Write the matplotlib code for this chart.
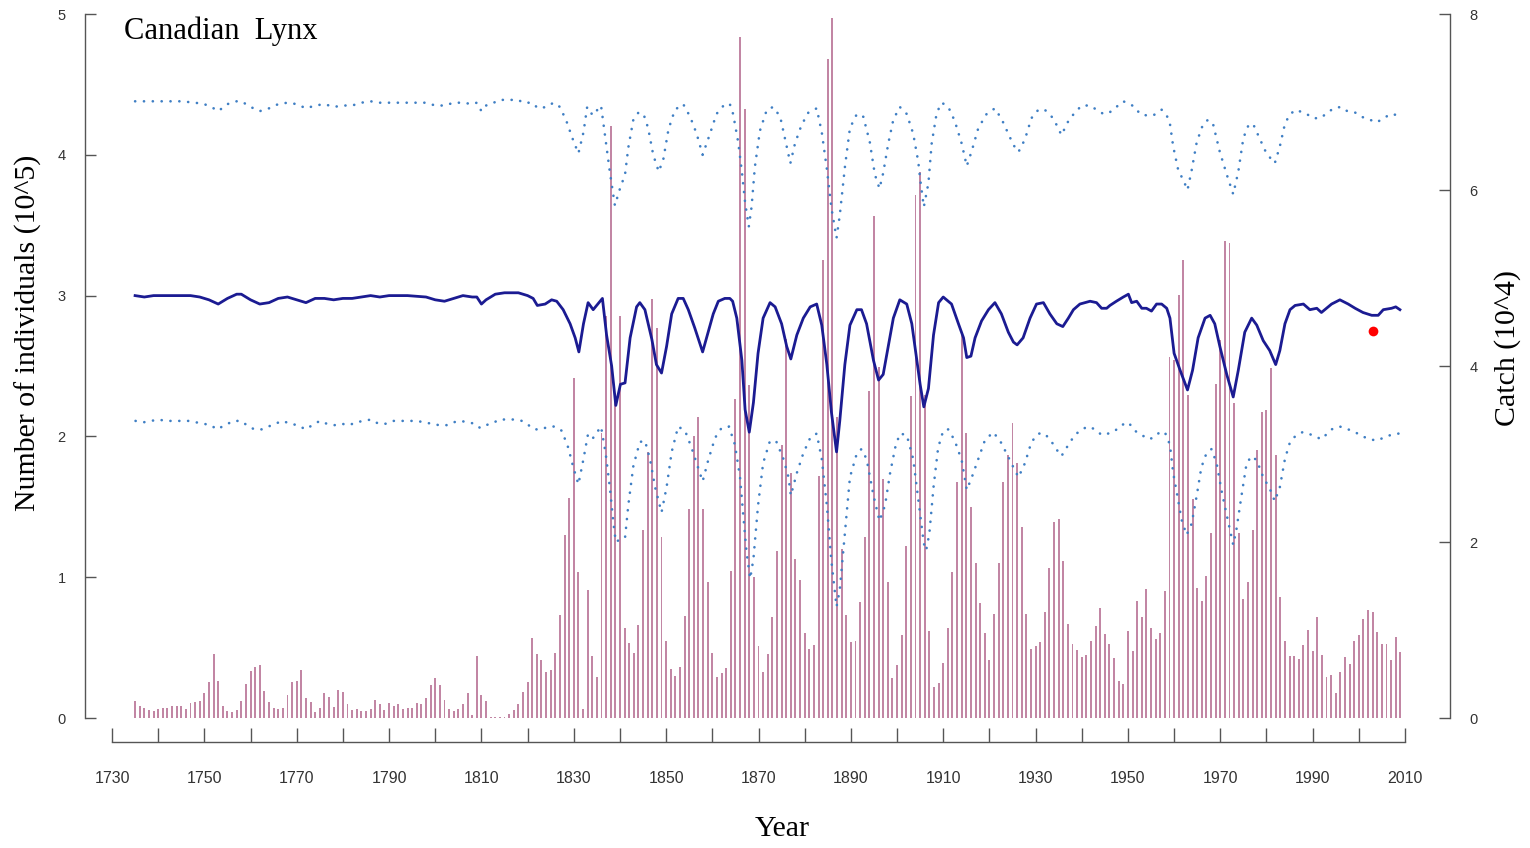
import matplotlib
matplotlib.use("Agg")
import matplotlib.pyplot as plt
import numpy as np

# ---------------- data ----------------
bar_years = list(range(1735, 2010))
catch = [
    # 1735-1777
    0.19, 0.14, 0.11, 0.09, 0.08, 0.10, 0.11, 0.11, 0.14, 0.14,
    0.14, 0.10, 0.17, 0.18, 0.19, 0.28, 0.41, 0.73, 0.42, 0.14,
    0.08, 0.07, 0.09, 0.19, 0.39, 0.53, 0.58, 0.60, 0.31, 0.18,
    0.11, 0.10, 0.11, 0.26, 0.41, 0.42, 0.55, 0.23, 0.18, 0.07,
    0.11, 0.28, 0.24,
    # 1778-1822
    0.13, 0.32, 0.29, 0.16, 0.09, 0.10, 0.08, 0.08, 0.10, 0.20,
    0.16, 0.09, 0.17, 0.14, 0.16, 0.10, 0.11, 0.11, 0.17, 0.16,
    0.23, 0.38, 0.45, 0.38, 0.20, 0.10, 0.08, 0.10, 0.16, 0.28,
    0.03, 0.70, 0.26, 0.19, 0.015, 0.015, 0.015, 0.015, 0.04, 0.09,
    0.16, 0.30, 0.41, 0.91, 0.73,
    # 1823-1864
    0.66, 0.52, 0.54, 0.74, 1.17, 2.08, 2.50, 3.86, 1.66, 0.10,
    1.46, 0.71, 0.47, 3.24, 4.57, 6.73, 3.69, 4.57, 1.02, 0.85,
    0.74, 1.06, 2.14, 3.02, 4.76, 4.43, 2.06, 0.87, 0.56, 0.48,
    0.58, 1.16, 2.38, 3.21, 3.42, 2.37, 1.54, 0.74, 0.47, 0.51,
    0.57, 1.67,
    # 1865-1904
    3.63, 7.74, 6.92, 3.78, 1.60, 0.82, 0.52, 0.73, 1.15, 1.90,
    3.10, 4.31, 2.78, 1.81, 1.57, 0.97, 0.78, 0.83, 2.75, 5.20,
    7.49, 7.96, 3.42, 1.92, 1.17, 0.86, 0.88, 1.32, 2.06, 3.72,
    5.70, 3.99, 2.72, 1.54, 0.46, 0.60, 0.94, 1.95, 3.66, 5.94,
    # 1905-1946
    6.21, 3.67, 0.99, 0.35, 0.40, 0.62, 1.02, 1.66, 2.68, 4.35,
    3.24, 2.40, 1.76, 1.31, 0.97, 0.66, 1.18, 1.76, 2.68, 2.99,
    3.35, 2.90, 2.17, 1.18, 0.78, 0.82, 0.86, 1.21, 1.71, 2.23,
    2.26, 1.78, 1.07, 0.84, 0.77, 0.69, 0.72, 0.87, 1.04, 1.25,
    0.96, 0.84,
    # 1947-1987
    0.68, 0.42, 0.39, 0.99, 0.76, 1.33, 1.15, 1.47, 1.02, 0.90,
    0.97, 1.44, 4.10, 4.07, 4.81, 5.20, 3.67, 2.49, 1.48, 1.33,
    1.61, 2.10, 3.79, 4.29, 5.42, 5.40, 3.58, 2.10, 1.35, 1.55,
    2.14, 3.04, 3.48, 3.50, 3.98, 2.99, 1.37, 0.88, 0.71, 0.70,
    0.67,
    # 1988-2009
    0.83, 1.00, 0.76, 1.15, 0.72, 0.47, 0.49, 0.28, 0.52, 0.69,
    0.61, 0.87, 0.94, 1.13, 1.23, 1.20, 0.98, 0.84, 0.84, 0.66,
    0.92, 0.75,
]

mid_years = [
    1735, 1737, 1739, 1741, 1744, 1747, 1749, 1751, 1753, 1755, 1757, 1758,
    1760, 1762, 1764, 1766, 1768, 1770, 1772, 1774, 1776, 1778, 1780, 1782,
    1784, 1786, 1788, 1790, 1794, 1798, 1800, 1802, 1804, 1806, 1808, 1809,
    1810, 1811, 1813, 1815, 1818, 1820,
    1821.2, 1822.1, 1823.8, 1825.2, 1826.3, 1827.7, 1829.2, 1830.3, 1831.1,
    1832.1, 1833.1, 1834.2, 1836.2, 1837.1, 1838.2, 1839.1, 1840.1, 1841.1,
    1842.2, 1843.6, 1844.3, 1845.4, 1846.9, 1847.9, 1849.0, 1850.1, 1851.2,
    1852.6, 1853.7, 1854.8, 1856.2, 1857.9, 1859.1, 1860.2, 1861.3, 1862.7,
    1863.8, 1864.4, 1865.3, 1866.4, 1867.1, 1868.0, 1868.9, 1869.9, 1871.0,
    1872.5, 1873.6, 1875.0, 1876.1, 1877.0, 1878.3, 1879.7, 1881.2, 1882.6,
    1883.7, 1884.8, 1885.8, 1886.9, 1887.6, 1888.7, 1889.8, 1891.3, 1892.3,
    1893.4, 1894.9, 1896.0, 1897.0, 1898.1, 1899.2, 1900.6, 1902.1, 1903.2,
    1904.3, 1905.0, 1905.8, 1906.8, 1907.9, 1909.0, 1910.0, 1911.8, 1913.3,
    1914.4, 1915.1, 1916.0, 1916.9, 1918.3, 1919.8, 1921.2, 1922.6, 1924.1,
    1925.2, 1926.0, 1927.3, 1928.8, 1930.2, 1931.7, 1933.1, 1934.6, 1935.9,
    1937.1, 1938.2, 1939.6, 1941.8, 1943.2, 1944.3, 1945.4, 1946.1, 1947.5,
    1949.0, 1950.1, 1950.8, 1951.9, 1953.0, 1954.0, 1955.1, 1956.2, 1957.3,
    1958.4, 1959.1, 1960.0, 1961.3, 1962.9, 1964.0, 1965.2, 1966.7, 1967.8,
    1968.8, 1969.9, 1971.4, 1972.8, 1973.9, 1975.3, 1976.8, 1977.9, 1979.3,
    1980.7, 1982.0, 1982.9, 1984.0, 1985.1, 1986.2, 1988.0, 1989.4, 1990.9,
    1991.9, 1994.1, 1995.9, 1997.7, 1999.2, 2000.9, 2002.8, 2004.2, 2005.3,
    2007.1, 2008.0, 2008.9,
]
mid_vals = [
    3.00, 2.99, 3.00, 3.00, 3.00, 3.00, 2.99, 2.97, 2.94, 2.98, 3.01, 3.01,
    2.97, 2.94, 2.95, 2.98, 2.99, 2.97, 2.95, 2.98, 2.98, 2.97, 2.98, 2.98,
    2.99, 3.00, 2.99, 3.00, 3.00, 2.99, 2.97, 2.96, 2.98, 3.00, 2.99, 2.99,
    2.94, 2.97, 3.01, 3.02, 3.02, 3.00,
    2.98, 2.93, 2.94, 2.97, 2.96, 2.90, 2.80, 2.70, 2.60,
    2.80, 2.95, 2.90, 2.98, 2.72, 2.50, 2.22, 2.37, 2.38,
    2.70, 2.92, 2.95, 2.90, 2.69, 2.51, 2.45, 2.64, 2.87,
    2.98, 2.98, 2.90, 2.77, 2.60, 2.74, 2.87, 2.96, 2.98,
    2.98, 2.96, 2.84, 2.54, 2.19, 2.03, 2.24, 2.59, 2.84,
    2.95, 2.92, 2.80, 2.64, 2.55, 2.72, 2.84, 2.92, 2.94,
    2.79, 2.51, 2.17, 1.89, 2.11, 2.51, 2.79, 2.90, 2.90,
    2.80, 2.54, 2.40, 2.44, 2.64, 2.84, 2.97, 2.94, 2.80,
    2.54, 2.37, 2.21, 2.34, 2.72, 2.95, 2.99, 2.94, 2.80,
    2.70, 2.56, 2.57, 2.70, 2.82, 2.90, 2.95, 2.87, 2.74,
    2.67, 2.65, 2.70, 2.84, 2.94, 2.95, 2.87, 2.80, 2.78,
    2.84, 2.90, 2.94, 2.96, 2.95, 2.91, 2.91, 2.93, 2.96,
    2.99, 3.01, 2.95, 2.96, 2.91, 2.91, 2.89, 2.94, 2.94,
    2.91, 2.84, 2.59, 2.47, 2.33, 2.47, 2.70, 2.84, 2.86,
    2.80, 2.64, 2.44, 2.28, 2.47, 2.74, 2.84, 2.79, 2.68,
    2.61, 2.51, 2.61, 2.80, 2.90, 2.93, 2.94, 2.90, 2.91,
    2.88, 2.94, 2.97, 2.94, 2.91, 2.88, 2.86, 2.86, 2.90,
    2.91, 2.92, 2.90,
]

upper_years = [
    1735, 1740, 1745, 1748, 1750, 1752, 1753, 1755, 1757, 1758, 1760, 1762,
    1764, 1766, 1768, 1770, 1772, 1774, 1776, 1778, 1780, 1782, 1784, 1786,
    1788, 1790, 1795, 1798, 1800, 1802, 1804, 1806, 1808, 1809, 1810, 1811,
    1812, 1814, 1816, 1818, 1819, 1820,
    1820.9, 1822.3, 1824.1, 1825.6, 1827.0, 1828.4, 1829.9, 1831.0, 1832.1,
    1832.9, 1834.1, 1835.9, 1836.7, 1837.8, 1838.9, 1840.0, 1841.1, 1841.8,
    1842.9, 1844.0, 1845.1, 1846.1, 1847.2, 1848.4, 1849.4, 1850.5, 1851.9,
    1853.7, 1855.2, 1856.6, 1857.9, 1859.5, 1860.9, 1862.7, 1863.8, 1864.5,
    1865.6, 1866.4, 1867.1, 1867.9, 1868.5, 1869.2, 1870.3, 1871.8, 1873.2,
    1874.7, 1875.7, 1876.9, 1877.9, 1879.3, 1880.8, 1882.6, 1883.7, 1884.8,
    1885.8, 1886.9, 1887.6, 1888.7, 1889.8, 1891.3, 1892.7, 1894.1, 1895.2,
    1896.2, 1897.0, 1898.1, 1899.2, 1900.6, 1902.1, 1903.5, 1904.6, 1905.0,
    1905.8, 1906.8, 1907.5, 1908.6, 1909.7, 1911.1, 1912.5, 1914.0, 1915.1,
    1916.2, 1917.6, 1919.4, 1921.2, 1922.7, 1924.1, 1925.2, 1926.3, 1927.7,
    1929.1, 1930.6, 1932.0, 1933.5, 1934.6, 1935.6, 1937.1, 1938.5, 1940.0,
    1941.8, 1943.2, 1944.7, 1946.0, 1947.5, 1949.0, 1950.4, 1951.5, 1952.6,
    1954.0, 1955.5, 1957.3, 1958.4, 1959.1, 1959.8, 1960.9, 1962.0, 1962.9,
    1963.8, 1964.9, 1966.3, 1967.4, 1968.5, 1969.9, 1971.4, 1972.8, 1973.9,
    1975.0, 1976.1, 1977.1, 1978.6, 1980.0, 1981.8, 1982.9, 1984.0, 1985.1,
    1986.5, 1987.8, 1988.7, 1990.1, 1991.6, 1992.9, 1994.5, 1996.1, 1997.5,
    1999.2, 2000.6, 2002.3, 2003.9, 2005.3, 2007.0, 2008.6,
]
upper_vals = [
    4.38, 4.38, 4.38, 4.37, 4.36, 4.33, 4.31, 4.36, 4.38, 4.38, 4.34, 4.31,
    4.33, 4.36, 4.37, 4.36, 4.33, 4.35, 4.36, 4.34, 4.35, 4.35, 4.37, 4.38,
    4.37, 4.37, 4.37, 4.37, 4.35, 4.35, 4.37, 4.37, 4.36, 4.37, 4.31, 4.35,
    4.36, 4.39, 4.39, 4.39, 4.37, 4.37,
    4.37, 4.33, 4.34, 4.37, 4.34, 4.24, 4.10, 4.01, 4.16,
    4.34, 4.28, 4.35, 4.15, 3.88, 3.64, 3.76, 3.86, 4.05,
    4.25, 4.30, 4.29, 4.19, 4.00, 3.88, 3.97, 4.18, 4.32,
    4.36, 4.27, 4.15, 4.00, 4.15, 4.29, 4.36, 4.36, 4.29,
    4.09, 3.88, 3.66, 3.49, 3.63, 3.91, 4.17, 4.32, 4.34,
    4.27, 4.12, 3.94, 4.08, 4.21, 4.30, 4.33, 4.16, 3.90,
    3.62, 3.41, 3.57, 3.91, 4.19, 4.29, 4.27, 4.09, 3.86,
    3.76, 3.87, 4.08, 4.25, 4.34, 4.29, 4.15, 3.95, 3.83,
    3.63, 3.80, 4.08, 4.30, 4.37, 4.34, 4.24, 4.08, 3.92,
    4.03, 4.19, 4.29, 4.33, 4.25, 4.15, 4.07, 4.02, 4.11,
    4.26, 4.32, 4.32, 4.27, 4.21, 4.14, 4.24, 4.30, 4.35,
    4.35, 4.32, 4.29, 4.30, 4.34, 4.38, 4.36, 4.34, 4.29,
    4.28, 4.28, 4.32, 4.28, 4.22, 4.06, 3.89, 3.82, 3.75,
    3.89, 4.09, 4.22, 4.25, 4.21, 4.02, 3.86, 3.72, 3.88,
    4.12, 4.21, 4.22, 4.11, 4.01, 3.94, 4.06, 4.22, 4.29,
    4.32, 4.30, 4.29, 4.26, 4.26, 4.29, 4.33, 4.34, 4.31,
    4.30, 4.27, 4.25, 4.23, 4.26, 4.29, 4.28,
]

lower_years = [
    1735.1, 1736.8, 1738.5, 1740.0, 1741.7, 1743.3, 1744.9, 1746.6, 1748.2,
    1749.9, 1751.4, 1752.7, 1754.5, 1756.3, 1757.9, 1759.2, 1760.8, 1762.4,
    1763.9, 1765.3, 1767.0, 1768.5, 1770.2, 1771.9, 1773.4, 1775.0, 1776.5,
    1778.2, 1779.7, 1781.4, 1782.8, 1784.4, 1786.1, 1787.7, 1789.3, 1790.9,
    1792.6, 1794.2, 1796.0, 1797.6, 1799.2, 1800.8, 1802.5, 1803.9, 1805.5,
    1807.1, 1808.6, 1809.7, 1810.9, 1812.2, 1813.9, 1815.5, 1817.2, 1818.8,
    1820.2,
    1821.4, 1823.0, 1824.5, 1825.9, 1827.4, 1828.8, 1829.9, 1831.0, 1832.1,
    1833.1, 1834.2, 1835.9, 1836.9, 1837.8, 1838.6, 1839.1, 1840.1, 1841.1,
    1841.8, 1842.9, 1844.3, 1845.4, 1846.5, 1847.6, 1849.0, 1850.1, 1851.2,
    1852.6, 1854.1, 1855.5, 1857.0, 1857.9, 1859.1, 1860.6, 1862.0, 1863.6,
    1864.9, 1866.0, 1866.7, 1867.4, 1868.2, 1868.9, 1869.9, 1871.0, 1872.5,
    1873.9, 1875.4, 1876.5, 1877.0, 1878.3, 1879.7, 1881.2, 1882.6, 1883.7,
    1884.8, 1885.8, 1886.9, 1887.6, 1888.7, 1889.8, 1891.3, 1892.3, 1893.4,
    1894.9, 1896.2, 1897.4, 1898.5, 1899.6, 1900.6, 1902.1, 1903.5, 1904.5,
    1905.2, 1905.8, 1906.3, 1907.0, 1907.9, 1908.9, 1910.0, 1911.1, 1912.5,
    1914.0, 1915.1, 1916.2, 1917.6, 1919.0, 1920.8, 1922.3, 1923.7, 1925.2,
    1926.3, 1927.7, 1929.1, 1930.6, 1932.0, 1933.5, 1934.9, 1935.6, 1937.1,
    1938.5, 1940.0, 1941.4, 1942.9, 1944.3, 1945.7, 1947.2, 1948.6, 1950.1,
    1951.5, 1953.0, 1954.4, 1955.5, 1956.9, 1958.0, 1959.1, 1959.8, 1960.7,
    1961.6, 1962.7, 1963.8, 1964.9, 1965.9, 1967.0, 1968.1, 1969.2, 1970.3,
    1971.4, 1972.8, 1973.5, 1974.6, 1975.7, 1976.8, 1977.9, 1979.3, 1980.7,
    1981.8, 1982.9, 1984.0, 1985.1, 1986.2, 1987.8, 1989.1, 1990.5, 1991.9,
    1994.1, 1995.9, 1997.7, 1999.2, 2000.8, 2002.4, 2003.9, 2005.3, 2006.9,
    2008.6,
]
lower_vals = [
    2.11, 2.10, 2.11, 2.12, 2.11, 2.11, 2.11, 2.11, 2.10,
    2.09, 2.08, 2.05, 2.08, 2.11, 2.11, 2.08, 2.05, 2.05,
    2.07, 2.09, 2.11, 2.09, 2.08, 2.05, 2.08, 2.11, 2.09,
    2.08, 2.09, 2.08, 2.10, 2.11, 2.12, 2.09, 2.09, 2.11,
    2.11, 2.11, 2.11, 2.10, 2.09, 2.08, 2.08, 2.10, 2.11,
    2.10, 2.09, 2.06, 2.08, 2.09, 2.12, 2.12, 2.12, 2.11,
    2.08,
    2.05, 2.05, 2.07, 2.07, 2.04, 1.92, 1.78, 1.66, 1.84,
    2.02, 1.99, 2.07, 1.88, 1.64, 1.38, 1.25, 1.27, 1.28,
    1.51, 1.79, 1.96, 1.97, 1.84, 1.64, 1.46, 1.64, 1.89,
    2.07, 2.04, 1.92, 1.77, 1.68, 1.83, 1.99, 2.06, 2.07,
    1.94, 1.71, 1.44, 1.18, 0.99, 1.13, 1.51, 1.81, 1.97,
    1.96, 1.84, 1.71, 1.58, 1.74, 1.88, 1.99, 2.02, 1.84,
    1.51, 1.11, 0.79, 0.91, 1.31, 1.71, 1.88, 1.91, 1.84,
    1.58, 1.40, 1.51, 1.74, 1.92, 2.02, 2.01, 1.84, 1.58,
    1.40, 1.24, 1.19, 1.31, 1.64, 1.92, 2.04, 2.05, 1.97,
    1.83, 1.62, 1.71, 1.84, 1.97, 2.03, 1.97, 1.88, 1.78,
    1.71, 1.81, 1.96, 2.02, 2.02, 1.96, 1.89, 1.86, 1.94,
    2.01, 2.05, 2.07, 2.05, 2.01, 2.02, 2.04, 2.08, 2.10,
    2.04, 2.01, 1.98, 1.99, 2.03, 2.03, 1.94, 1.74, 1.58,
    1.41, 1.30, 1.38, 1.58, 1.78, 1.88, 1.91, 1.81, 1.61,
    1.44, 1.23, 1.34, 1.58, 1.81, 1.86, 1.83, 1.71, 1.63,
    1.54, 1.64, 1.84, 1.96, 2.00, 2.03, 2.02, 2.00, 1.98,
    2.05, 2.07, 2.05, 2.03, 2.00, 1.98, 1.97, 1.99, 2.01,
    2.02,
]

obs_year = [2003]
obs_val = [2.75]

x_ticks = list(range(1730, 2011, 10))
x_labels = [str(y) if (y - 1730) % 20 == 0 else "" for y in x_ticks]
left_ticks = [0, 1, 2, 3, 4, 5]
right_ticks = [0, 2, 4, 6, 8]

# ---------------- figure ----------------
W, H = 1530, 848
fig = plt.figure(figsize=(W / 100, H / 100), dpi=100)
ax_left, ax_right, ax_top, ax_bot = 85, 1450, 14, 718
ax = fig.add_axes([ax_left / W, 1 - ax_bot / H, (ax_right - ax_left) / W,
                   (ax_bot - ax_top) / H])
ax2 = ax.twinx()

px_per_year = (1405 - 112) / 280.0
xmin = 1730 - (112 - ax_left) / px_per_year
xmax = 2010 + (ax_right - 1405) / px_per_year

# bars on right axis (drawn underneath)
ax2.bar(bar_years, catch, width=0.42, color="#c286a4", edgecolor="none",
        zorder=1)
ax2.set_ylim(0, 8)

ax.set_zorder(ax2.get_zorder() + 1)
ax.patch.set_visible(False)

blue_dot = "#3f7fc4"
dot_style = (0, (0.05, 3.3))
ax.plot(upper_years, upper_vals, color=blue_dot, lw=1.9,
        linestyle=dot_style, dash_capstyle="round")
ax.plot(lower_years, lower_vals, color=blue_dot, lw=1.9,
        linestyle=dot_style, dash_capstyle="round")
ax.plot(mid_years, mid_vals, color="#1b1b92", lw=2.0, solid_joinstyle="round")
ax.plot(obs_year, obs_val, "o", color="#ff0000", ms=7, mec="none")

ax.set_xlim(xmin, xmax)
ax2.set_xlim(xmin, xmax)
ax.set_ylim(0, 5)

spine_col = "#555555"
tick_lab_col = "#333333"
for a in (ax, ax2):
    for s in a.spines.values():
        s.set_visible(False)

ax.spines["left"].set_visible(True)
ax.spines["left"].set_color(spine_col)
ax.spines["left"].set_linewidth(1.0)
ax.set_yticks(left_ticks)
ax.tick_params(axis="y", direction="in", length=8, width=1.0, color=spine_col,
               labelsize=10.5, labelcolor=tick_lab_col, pad=14)

ax2.spines["right"].set_visible(True)
ax2.spines["right"].set_color(spine_col)
ax2.spines["right"].set_linewidth(1.0)
ax2.set_yticks(right_ticks)
ax2.tick_params(axis="y", direction="in", length=8, width=1.0, color=spine_col,
                labelsize=10.5, labelcolor=tick_lab_col, pad=14)
ax2.set_xticks([])

ax.spines["bottom"].set_visible(True)
ax.spines["bottom"].set_position(("outward", 17))
ax.spines["bottom"].set_bounds(1730, 2010)
ax.spines["bottom"].set_color(spine_col)
ax.spines["bottom"].set_linewidth(1.0)
ax.set_xticks(x_ticks)
ax.set_xticklabels(x_labels)
ax.tick_params(axis="x", direction="in", length=10, width=1.0, color=spine_col,
               labelsize=11.5, labelcolor=tick_lab_col, pad=21)

serif = ["Liberation Serif", "DejaVu Serif"]
ax.text(1732.5, 4.88, "Canadian  Lynx", family=serif, fontsize=22,
        va="center", ha="left")
fig.text(28 / W, 1 - 333 / H, "Number of individuals (10^5)", family=serif,
         fontsize=21.5, rotation=90, va="center", ha="center")
fig.text(1508 / W, 1 - 348 / H, "Catch (10^4)", family=serif, fontsize=21.5,
         rotation=90, va="center", ha="center")
fig.text(782 / W, 1 - 829 / H, "Year", family=serif, fontsize=21.5,
         va="center", ha="center")

for lab in ax.get_xticklabels() + ax.get_yticklabels() + ax2.get_yticklabels():
    lab.set_family(["Liberation Sans", "DejaVu Sans"])

fig.savefig("out.png", dpi=100, facecolor="white")
